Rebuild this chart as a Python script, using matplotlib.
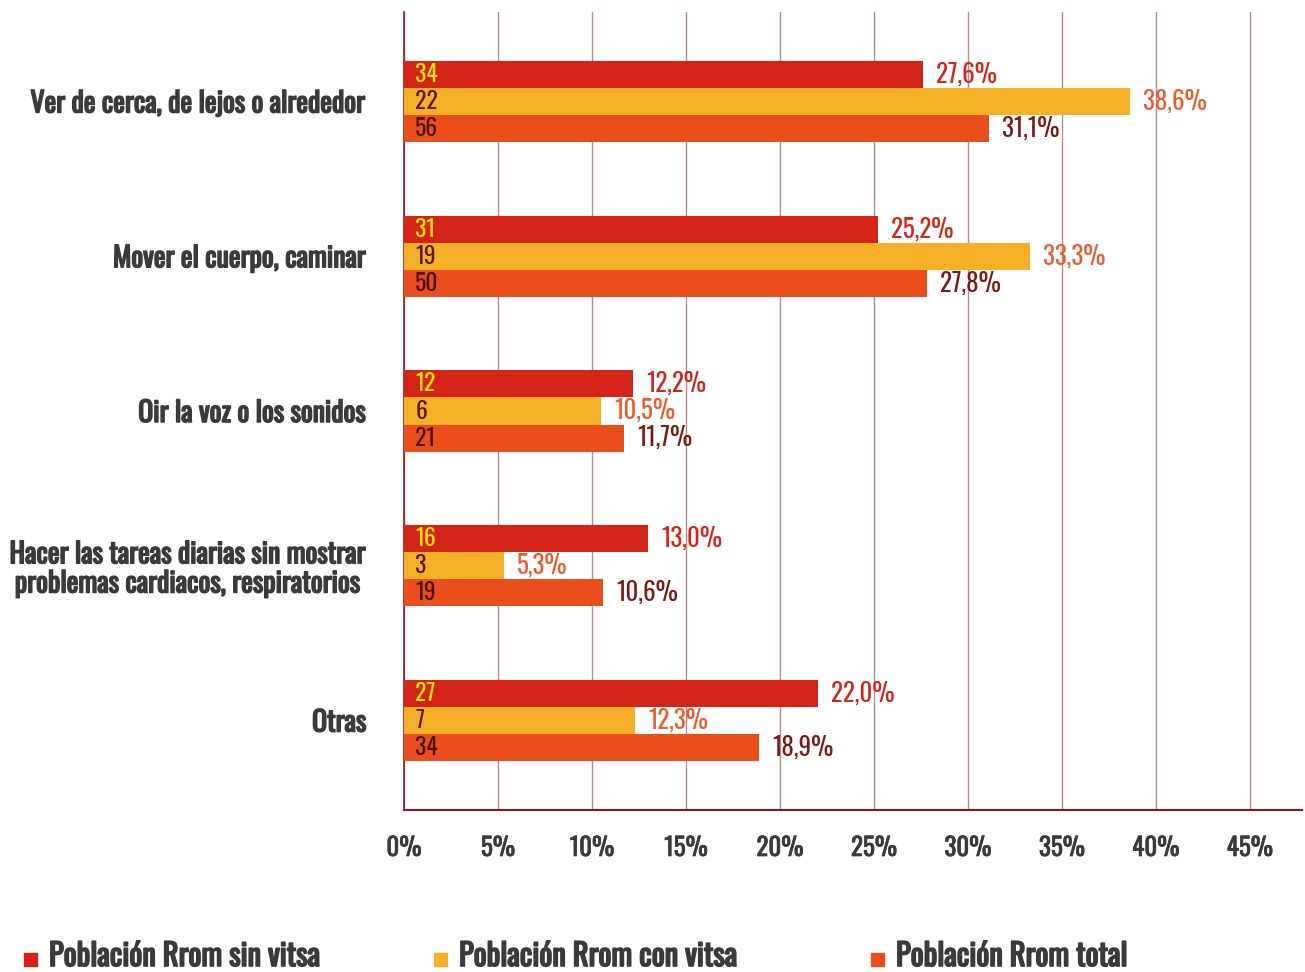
import matplotlib
matplotlib.use("Agg")
import matplotlib.pyplot as plt
import matplotlib.patheffects as pe
from matplotlib import font_manager as fm
import numpy as np

categories = [
    "Ver de cerca, de lejos o alrededor",
    "Mover el cuerpo, caminar",
    "Oir la voz o los sonidos",
    "Hacer las tareas diarias sin mostrar\nproblemas cardiacos, respiratorios",
    "Otras",
]
series_names = ["Población Rrom sin vitsa", "Población Rrom con vitsa", "Población Rrom total"]
counts_sin = [34, 31, 12, 16, 27]
pct_sin = [27.6, 25.2, 12.2, 13.0, 22.0]
counts_con = [22, 19, 6, 3, 7]
pct_con = [38.6, 33.3, 10.5, 5.3, 12.3]
counts_tot = [56, 50, 21, 19, 34]
pct_tot = [31.1, 27.8, 11.7, 10.6, 18.9]
xticks = [0, 5, 10, 15, 20, 25, 30, 35, 40, 45]

names = {f.name for f in fm.fontManager.ttflist}
font = None
for cand in ["Oswald", "Roboto Condensed", "Liberation Sans Narrow", "DejaVu Sans"]:
    if cand in names:
        font = cand
        break
plt.rcParams["font.family"] = [font, "DejaVu Sans"]

bar_colors = ["#D42317", "#F5B027", "#EA4E1D"]
inner_colors = ["#FFE500", "#5A1A0E", "#4A1208"]
pct_colors = ["#D42317", "#F05A28", "#7A1A12"]
text_gray = "#3A3A3A"


def bold_fx(color, lw=1.0):
    return [pe.withStroke(linewidth=lw, foreground=color)]


W, H = 1305, 972
fig = plt.figure(figsize=(W / 100, H / 100), dpi=100)
ax = fig.add_axes([404 / W, (H - 810) / H, (1302 - 404) / W, (810 - 12) / H])

n = len(categories)
y = np.arange(n)
bh = 0.1745
series_counts = [counts_sin, counts_con, counts_tot]
series_pct = [pct_sin, pct_con, pct_tot]
offsets = [-bh, 0, bh]

for k in range(3):
    ax.barh(y + offsets[k], series_pct[k], height=bh, color=bar_colors[k], zorder=3,
            label=series_names[k])
    for i in range(n):
        ax.text(0.6, y[i] + offsets[k], str(series_counts[k][i]), ha="left", va="center",
                color=inner_colors[k], fontsize=17, zorder=4)
        ax.text(series_pct[k][i] + 0.7, y[i] + offsets[k],
                f"{series_pct[k][i]:.1f}".replace(".", ",") + "%",
                ha="left", va="center", color=pct_colors[k], fontsize=18, zorder=4)

ax.set_xlim(0, 47.77)
ax.set_ylim(n - 1 + 0.578, -0.578)
ax.set_xticks(xticks)
ax.set_xticklabels([f"{t}%" for t in xticks], fontsize=18, color=text_gray)
ax.tick_params(axis="x", length=0, pad=18)
for lbl in ax.get_xticklabels():
    lbl.set_path_effects(bold_fx(text_gray, 0.5))
ax.set_yticks(y)
ax.set_yticklabels(categories, fontsize=20, color=text_gray)
ax.tick_params(axis="y", length=0, pad=27)
for lbl in ax.get_yticklabels():
    lbl.set_multialignment("center")
    lbl.set_linespacing(1.1)
    lbl.set_path_effects(bold_fx(text_gray, 1.1))
ax.grid(axis="x", color="#B98A8A", linewidth=1, zorder=0)
for s in ["top", "right"]:
    ax.spines[s].set_visible(False)
ax.spines["left"].set_color("#8B1A1A")
ax.spines["bottom"].set_color("#8B1A1A")
ax.spines["left"].set_linewidth(1.2)
ax.spines["bottom"].set_linewidth(1.5)

# legend
leg_x = [24, 434, 871]
for k in range(3):
    fig.patches.append(plt.Rectangle((leg_x[k] / W, (H - 966) / H), 13 / W, 13 / H,
                                     transform=fig.transFigure, color=bar_colors[k]))
    t = fig.text((leg_x[k] + 25) / W, (H - 966) / H, series_names[k], ha="left",
                 va="baseline", fontsize=22, color=text_gray)
    t.set_path_effects(bold_fx(text_gray, 1.2))

fig.savefig("out.png", dpi=100)
